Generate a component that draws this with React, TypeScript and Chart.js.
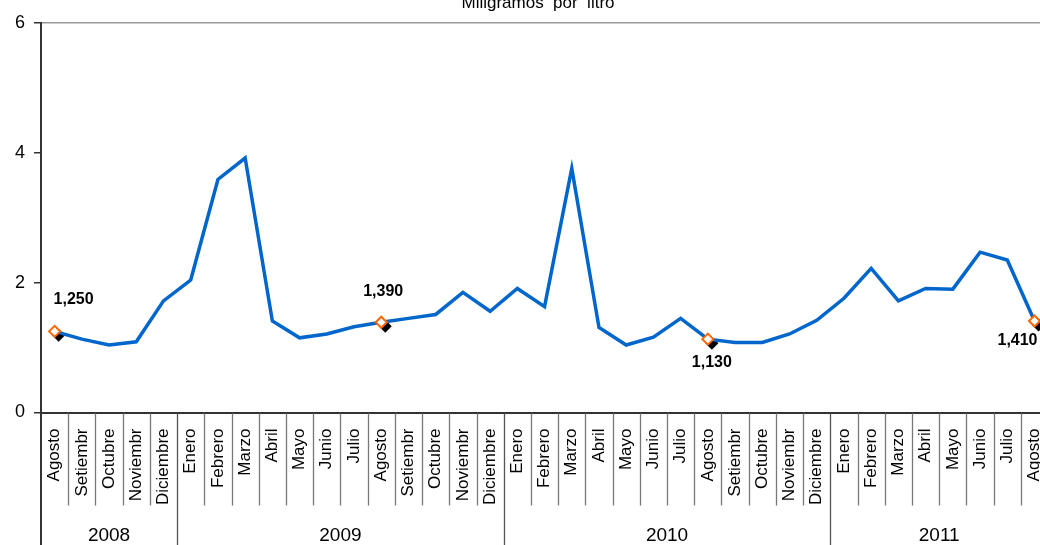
import { useEffect, useRef } from "react";
import { Chart, registerables } from "chart.js";

Chart.register(...registerables);

const FONT = "'Liberation Sans', Arial, Helvetica, sans-serif";

// Monthly series, August 2008 – August 2011
const monthLabels = [
  "Agosto", "Setiembr", "Octubre", "Noviembr", "Diciembre",
  "Enero", "Febrero", "Marzo", "Abril", "Mayo", "Junio", "Julio",
  "Agosto", "Setiembr", "Octubre", "Noviembr", "Diciembre",
  "Enero", "Febrero", "Marzo", "Abril", "Mayo", "Junio", "Julio",
  "Agosto", "Setiembr", "Octubre", "Noviembr", "Diciembre",
  "Enero", "Febrero", "Marzo", "Abril", "Mayo", "Junio", "Julio", "Agosto",
];
const yearLabels = ["2008", "2009", "2010", "2011"];
const monthsPerYear = [5, 12, 12, 8];

// mg/L
const concentration = [
  1.25, 1.13, 1.04, 1.09, 1.72,
  2.04, 3.59, 3.92, 1.41, 1.15, 1.21, 1.32,
  1.39, 1.45, 1.51, 1.85, 1.56,
  1.91, 1.63, 3.76, 1.31, 1.04, 1.16, 1.45,
  1.13, 1.08, 1.08, 1.21, 1.42,
  1.76, 2.22, 1.72, 1.91, 1.9, 2.47, 2.35, 1.41,
];

// August readings that carry a value tag
const taggedPoints = [0, 12, 24, 36];
const yTicks = [0, 2, 4, 6];

const TITLE = "Miligramos  por  litro";

const CANVAS_W = 1071;
const CANVAS_H = 557;

function diamondPath(ctx: CanvasRenderingContext2D, x: number, y: number, r: number) {
  ctx.beginPath();
  ctx.moveTo(x - r, y);
  ctx.lineTo(x, y - r);
  ctx.lineTo(x + r, y);
  ctx.lineTo(x, y + r);
  ctx.closePath();
}

const formatValue = (v: number) => v.toFixed(3).replace(".", ",");

// Shadowed markers and numeric tags on the August readings
const valueTags = {
  id: "valueTags",
  beforeDatasetsDraw(chart: any, _args: any, opts: any) {
    const ctx: CanvasRenderingContext2D = chart.ctx;
    const meta = chart.getDatasetMeta(0);
    ctx.save();
    ctx.fillStyle = "#000";
    taggedPoints.forEach((i) => {
      const p = meta.data[i];
      diamondPath(ctx, p.x + opts.shadow[0], p.y + opts.shadow[1], 6.5);
      ctx.fill();
    });
    ctx.restore();
  },
  afterDatasetsDraw(chart: any, _args: any, opts: any) {
    const ctx: CanvasRenderingContext2D = chart.ctx;
    const meta = chart.getDatasetMeta(0);
    ctx.save();
    ctx.fillStyle = "#000";
    ctx.font = `bold 16px ${FONT}`;
    ctx.textAlign = "center";
    ctx.textBaseline = "middle";
    taggedPoints.forEach((i, k) => {
      const p = meta.data[i];
      const [dx, dy] = opts.offsets[k];
      ctx.fillText(formatValue(concentration[i]), p.x + dx, p.y + dy);
    });
    ctx.restore();
  },
};

// Month separators, year grouping row and the chart heading
const axisGroups = {
  id: "axisGroups",
  afterDraw(chart: any) {
    const ctx: CanvasRenderingContext2D = chart.ctx;
    const { chartArea } = chart;
    const x = chart.scales.x;
    const n = monthLabels.length;
    const step = x.getPixelForValue(1) - x.getPixelForValue(0);
    const edge = (i: number) => x.getPixelForValue(i) - step / 2;

    const yearEdges = new Set<number>([0]);
    let acc = 0;
    monthsPerYear.forEach((m) => {
      acc += m;
      yearEdges.add(acc);
    });

    const axisY = chartArea.bottom;
    const monthBottom = axisY + 93;
    const fullBottom = chart.height;

    ctx.save();
    for (let i = 1; i <= n; i++) {
      const px = Math.round(edge(i)) + 0.5;
      const isYear = yearEdges.has(i);
      ctx.strokeStyle = isYear ? "#555" : "#777";
      ctx.lineWidth = 1.3;
      ctx.beginPath();
      ctx.moveTo(px, axisY + 1);
      ctx.lineTo(px, isYear ? fullBottom : monthBottom);
      ctx.stroke();
    }

    ctx.strokeStyle = "#333";
    ctx.lineWidth = 2;
    ctx.beginPath();
    ctx.moveTo(chartArea.left, axisY);
    ctx.lineTo(chartArea.left, fullBottom);
    ctx.stroke();

    ctx.fillStyle = "#000";
    ctx.font = `19px ${FONT}`;
    ctx.textAlign = "center";
    ctx.textBaseline = "alphabetic";
    let start = 0;
    yearLabels.forEach((label, k) => {
      const end = start + monthsPerYear[k];
      ctx.fillText(label, (edge(start) + edge(end)) / 2, axisY + 128);
      start = end;
    });

    ctx.font = `17px ${FONT}`;
    ctx.fillText(TITLE, 538, 18);
    ctx.restore();
  },
};

export default function App() {
  const canvasRef = useRef<HTMLCanvasElement | null>(null);

  useEffect(() => {
    const canvas = canvasRef.current;
    if (!canvas) return;

    const chart = new Chart(canvas, {
      type: "line",
      data: {
        labels: monthLabels,
        datasets: [
          {
            data: concentration,
            borderColor: "#0066CC",
            borderWidth: 3.5,
            tension: 0,
            fill: false,
            pointStyle: "rectRot",
            pointRadius: (c: any) => (taggedPoints.includes(c.dataIndex) ? 5.5 : 0),
            pointHoverRadius: (c: any) => (taggedPoints.includes(c.dataIndex) ? 5.5 : 0),
            pointBackgroundColor: "#FFFFFF",
            pointBorderColor: "#FF6600",
            pointBorderWidth: 2,
          },
        ],
      },
      options: {
        responsive: false,
        animation: false,
        events: [],
        layout: { padding: { top: 33, left: 0, right: 0, bottom: 0 } },
        plugins: {
          legend: { display: false },
          tooltip: { enabled: false },
          title: { display: false },
          valueTags: {
            shadow: [4, 4],
            offsets: [
              [19, -32],
              [2, -31],
              [4, 23],
              [-17, 20],
            ],
          },
        } as any,
        scales: {
          x: {
            offset: true,
            grid: { display: false, drawTicks: false },
            border: { display: true, color: "#333", width: 2 },
            ticks: {
              autoSkip: false,
              minRotation: 90,
              maxRotation: 90,
              padding: 16,
              color: "#000",
              font: { family: FONT, size: 17 },
            },
            afterFit: (s: any) => {
              s.height = 134.5;
            },
          },
          y: {
            min: yTicks[0],
            max: yTicks[yTicks.length - 1],
            afterBuildTicks: (s: any) => {
              s.ticks = yTicks.map((v) => ({ value: v }));
            },
            grid: {
              drawOnChartArea: true,
              drawTicks: true,
              tickLength: 7,
              lineWidth: 1.5,
              color: (c: any) =>
                c.tick && c.tick.value === yTicks[yTicks.length - 1] ? "#999" : "rgba(0,0,0,0)",
              tickColor: "#333",
            },
            border: { display: true, color: "#333", width: 2 },
            ticks: {
              padding: 9,
              color: "#000",
              font: { family: FONT, size: 18 },
            },
            afterFit: (s: any) => {
              s.width = 41;
            },
          },
        },
      },
      plugins: [valueTags, axisGroups],
    });

    return () => chart.destroy();
  }, []);

  return (
    <div
      style={{
        position: "fixed",
        left: 0,
        top: -10,
        width: CANVAS_W,
        height: CANVAS_H,
        overflow: "hidden",
      }}
    >
      <canvas
        ref={canvasRef}
        width={CANVAS_W}
        height={CANVAS_H}
        style={{ display: "block", width: CANVAS_W, height: CANVAS_H }}
      />
    </div>
  );
}
